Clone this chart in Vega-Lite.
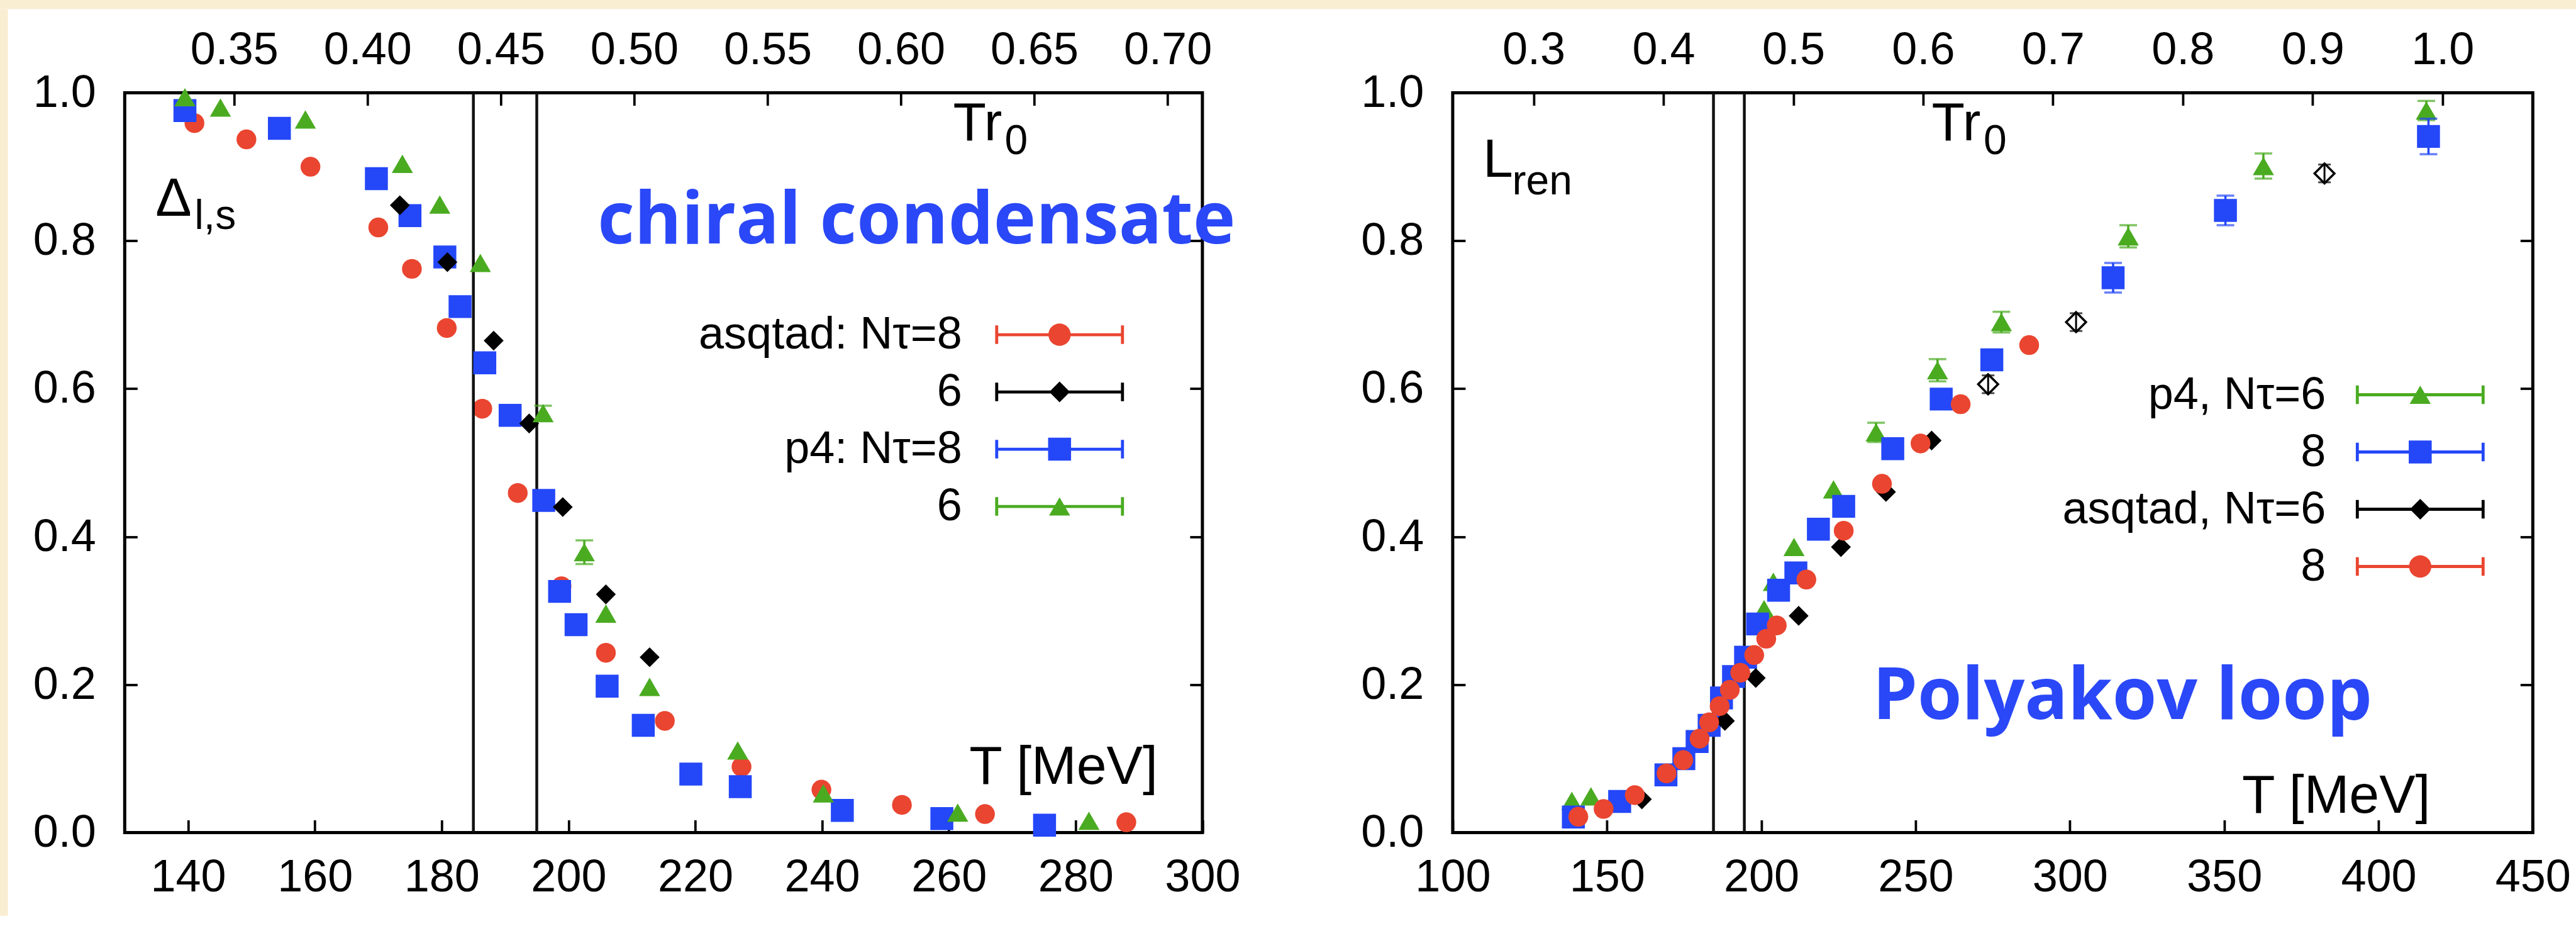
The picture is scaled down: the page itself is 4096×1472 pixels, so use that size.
{
  "$schema": "https://vega.github.io/schema/vega-lite/v6.json",
  "background": "white",
  "padding": 0,
  "bounds": "flush",
  "spacing": 0,
  "config": {
    "view": {"stroke": "black", "strokeWidth": 5},
    "axis": {
      "labelFont": "Liberation Sans", "labelFontSize": 72, "labelColor": "black",
      "tickColor": "black", "tickWidth": 3.8, "tickSize": -20,
      "domain": false, "grid": false, "labelFlush": false, "labelOverlap": false, "labelBound": false
    },
    "legend": {
      "title": null, "orient": "none", "symbolSize": 2500, "symbolStrokeWidth": 0, "symbolOpacity": 1,
      "labelFont": "Liberation Sans", "labelFontSize": 72, "labelColor": "black", "labelAlign": "right", "labelBaseline": "middle",
      "labelLimit": 2000, "rowPadding": 19, "padding": 0
    },
    "text": {"font": "Liberation Sans", "color": "black"}
  },
  "datasets": {
    "chiral": [
      {"series": "a8", "T": 141.0, "v": 0.959}, {"series": "a8", "T": 149.2, "v": 0.937}, {"series": "a8", "T": 159.3, "v": 0.900},
      {"series": "a8", "T": 170.0, "v": 0.818}, {"series": "a8", "T": 175.3, "v": 0.762}, {"series": "a8", "T": 180.8, "v": 0.682},
      {"series": "a8", "T": 186.4, "v": 0.573}, {"series": "a8", "T": 192.0, "v": 0.459}, {"series": "a8", "T": 198.9, "v": 0.333},
      {"series": "a8", "T": 205.9, "v": 0.243}, {"series": "a8", "T": 215.2, "v": 0.151}, {"series": "a8", "T": 227.3, "v": 0.089},
      {"series": "a8", "T": 239.9, "v": 0.058}, {"series": "a8", "T": 252.6, "v": 0.0375}, {"series": "a8", "T": 265.7, "v": 0.025},
      {"series": "a8", "T": 288.0, "v": 0.014},
      {"series": "p8", "T": 139.5, "v": 0.976}, {"series": "p8", "T": 154.4, "v": 0.952}, {"series": "p8", "T": 169.7, "v": 0.884},
      {"series": "p8", "T": 175.0, "v": 0.834}, {"series": "p8", "T": 180.5, "v": 0.778}, {"series": "p8", "T": 182.9, "v": 0.711},
      {"series": "p8", "T": 186.8, "v": 0.635}, {"series": "p8", "T": 190.8, "v": 0.564}, {"series": "p8", "T": 196.1, "v": 0.449},
      {"series": "p8", "T": 198.6, "v": 0.326}, {"series": "p8", "T": 201.2, "v": 0.281}, {"series": "p8", "T": 206.1, "v": 0.198},
      {"series": "p8", "T": 211.8, "v": 0.145}, {"series": "p8", "T": 219.3, "v": 0.079}, {"series": "p8", "T": 227.1, "v": 0.062},
      {"series": "p8", "T": 243.2, "v": 0.030}, {"series": "p8", "T": 258.9, "v": 0.019}, {"series": "p8", "T": 275.1, "v": 0.010},
      {"series": "a6", "T": 173.4, "v": 0.848}, {"series": "a6", "T": 180.9, "v": 0.771}, {"series": "a6", "T": 188.2, "v": 0.665},
      {"series": "a6", "T": 193.8, "v": 0.553}, {"series": "a6", "T": 199.1, "v": 0.440}, {"series": "a6", "T": 205.9, "v": 0.322},
      {"series": "a6", "T": 212.8, "v": 0.237},
      {"series": "p6", "T": 139.5, "v": 0.994}, {"series": "p6", "T": 145.1, "v": 0.980}, {"series": "p6", "T": 158.5, "v": 0.964},
      {"series": "p6", "T": 173.8, "v": 0.904}, {"series": "p6", "T": 179.7, "v": 0.849}, {"series": "p6", "T": 186.1, "v": 0.770},
      {"series": "p6", "T": 196.0, "v": 0.567, "err": 0.010}, {"series": "p6", "T": 202.5, "v": 0.379, "err": 0.016}, {"series": "p6", "T": 205.9, "v": 0.296},
      {"series": "p6", "T": 212.8, "v": 0.197}, {"series": "p6", "T": 226.7, "v": 0.111}, {"series": "p6", "T": 240.2, "v": 0.053},
      {"series": "p6", "T": 261.4, "v": 0.027}, {"series": "p6", "T": 282.1, "v": 0.016}
    ],
    "polyakov": [
      {"series": "p6", "T": 138.6, "v": 0.043}, {"series": "p6", "T": 144.8, "v": 0.049}, {"series": "p6", "T": 200.9, "v": 0.302},
      {"series": "p6", "T": 203.9, "v": 0.339}, {"series": "p6", "T": 210.6, "v": 0.386}, {"series": "p6", "T": 223.4, "v": 0.464},
      {"series": "p6", "T": 237.2, "v": 0.541, "err": 0.013}, {"series": "p6", "T": 257.1, "v": 0.625, "err": 0.015},
      {"series": "p6", "T": 277.8, "v": 0.690, "err": 0.014}, {"series": "p6", "T": 318.9, "v": 0.806, "err": 0.015},
      {"series": "p6", "T": 362.7, "v": 0.901, "err": 0.017}, {"series": "p6", "T": 415.5, "v": 0.976, "err": 0.013},
      {"series": "p8", "T": 139.1, "v": 0.021}, {"series": "p8", "T": 154.1, "v": 0.042}, {"series": "p8", "T": 169.1, "v": 0.078},
      {"series": "p8", "T": 174.9, "v": 0.100}, {"series": "p8", "T": 179.2, "v": 0.123}, {"series": "p8", "T": 183.1, "v": 0.145},
      {"series": "p8", "T": 187.1, "v": 0.182}, {"series": "p8", "T": 191.0, "v": 0.211}, {"series": "p8", "T": 194.9, "v": 0.237},
      {"series": "p8", "T": 198.8, "v": 0.282}, {"series": "p8", "T": 205.6, "v": 0.3275}, {"series": "p8", "T": 211.2, "v": 0.351},
      {"series": "p8", "T": 218.5, "v": 0.410}, {"series": "p8", "T": 226.7, "v": 0.441}, {"series": "p8", "T": 242.6, "v": 0.519},
      {"series": "p8", "T": 258.3, "v": 0.586}, {"series": "p8", "T": 274.7, "v": 0.639}, {"series": "p8", "T": 314.0, "v": 0.750, "err": 0.02},
      {"series": "p8", "T": 350.4, "v": 0.841, "err": 0.02}, {"series": "p8", "T": 416.2, "v": 0.941, "err": 0.024},
      {"series": "a6", "T": 161.3, "v": 0.045}, {"series": "a6", "T": 188.2, "v": 0.151}, {"series": "a6", "T": 198.2, "v": 0.209},
      {"series": "a6", "T": 212.1, "v": 0.293}, {"series": "a6", "T": 225.8, "v": 0.386}, {"series": "a6", "T": 240.4, "v": 0.4605},
      {"series": "a6", "T": 255.2, "v": 0.530}, {"series": "a6", "T": 273.5, "v": 0.606, "err": 0.012},
      {"series": "a6", "T": 302.0, "v": 0.690, "err": 0.012}, {"series": "a6", "T": 382.5, "v": 0.891, "err": 0.012},
      {"series": "a8", "T": 140.7, "v": 0.0214}, {"series": "a8", "T": 148.9, "v": 0.032}, {"series": "a8", "T": 159.0, "v": 0.0506},
      {"series": "a8", "T": 169.3, "v": 0.080}, {"series": "a8", "T": 174.7, "v": 0.098}, {"series": "a8", "T": 180.0, "v": 0.127},
      {"series": "a8", "T": 183.1, "v": 0.149}, {"series": "a8", "T": 186.5, "v": 0.171}, {"series": "a8", "T": 189.8, "v": 0.193},
      {"series": "a8", "T": 193.2, "v": 0.216}, {"series": "a8", "T": 197.7, "v": 0.240}, {"series": "a8", "T": 201.6, "v": 0.262},
      {"series": "a8", "T": 205.0, "v": 0.280}, {"series": "a8", "T": 214.6, "v": 0.342}, {"series": "a8", "T": 226.7, "v": 0.408},
      {"series": "a8", "T": 239.1, "v": 0.4715}, {"series": "a8", "T": 251.6, "v": 0.526}, {"series": "a8", "T": 264.6, "v": 0.579},
      {"series": "a8", "T": 286.8, "v": 0.659}
    ]
  },
  "vconcat": [
    {
      "width": 4096, "height": 14.4,
      "view": {"stroke": null},
      "data": {"values": [{}]},
      "mark": {"type": "rect", "color": "#f9eed2"},
      "encoding": {}
    },
    {
      "bounds": "flush",
      "spacing": 185.3,
      "center": true,
      "resolve": {
        "scale": {"color": "independent", "shape": "independent"},
        "legend": {"color": "independent", "shape": "independent"}
      },
      "hconcat": [
        {
          "width": 12.5, "height": 1441,
          "view": {"stroke": null},
          "data": {"values": [{}]},
          "mark": {"type": "rect", "color": "#f9eed2"},
          "encoding": {}
        },
        {
          "width": 1713.6, "height": 1176,
          "layer": [
            {
              "layer": [
                {
                  "data": {"name": "chiral"},
                  "transform": [{"filter": "datum.series == 'a8'"}],
                  "mark": {"type": "point", "shape": "circle", "filled": true, "color": "#ea4530", "size": 990, "opacity": 1},
                  "encoding": {
                    "x": {"field": "T", "type": "quantitative", "title": null,
                      "scale": {"domain": [130, 300], "nice": false, "zero": false},
                      "axis": {"orient": "bottom", "values": [140, 160, 180, 200, 220, 240, 260, 280, 300], "labelPadding": 56, "title": null}},
                    "y": {"field": "v", "type": "quantitative", "title": null,
                      "scale": {"domain": [0, 1], "nice": false},
                      "axis": {"orient": "left", "values": [0, 0.2, 0.4, 0.6, 0.8, 1.0], "format": ".1f", "labelPadding": 66, "title": null}}
                  }
                },
                {
                  "data": {"values": [{"T": 185}, {"T": 195}]},
                  "mark": {"type": "rule", "color": "#111", "strokeWidth": 4.5},
                  "encoding": {"x": {"field": "T", "type": "quantitative"}}
                },
                {
                  "data": {"name": "chiral"},
                  "transform": [{"filter": "datum.series == 'p6' && isValid(datum.err)"}],
                  "mark": {"type": "errorbar", "color": "#4aab21", "ticks": {"size": 28}, "thickness": 3.5},
                  "encoding": {
                    "x": {"field": "T", "type": "quantitative"},
                    "y": {"field": "v", "type": "quantitative"},
                    "yError": {"field": "err"}
                  }
                },
                {
                  "data": {"name": "chiral"},
                  "transform": [{"filter": "datum.series == 'p8'"}],
                  "mark": {"type": "point", "shape": "square", "filled": true, "color": "#2447f8", "size": 1330, "opacity": 1},
                  "encoding": {"x": {"field": "T", "type": "quantitative"}, "y": {"field": "v", "type": "quantitative"}}
                },
                {
                  "data": {"name": "chiral"},
                  "transform": [{"filter": "datum.series == 'a6'"}],
                  "mark": {"type": "point", "shape": "diamond", "filled": true, "color": "#000000", "size": 1000, "opacity": 1},
                  "encoding": {"x": {"field": "T", "type": "quantitative"}, "y": {"field": "v", "type": "quantitative"}}
                },
                {
                  "data": {"name": "chiral"},
                  "transform": [{"filter": "datum.series == 'p6'"}],
                  "mark": {"type": "point", "shape": "triangle-up", "filled": true, "color": "#4aab21", "size": 1130, "opacity": 1},
                  "encoding": {"x": {"field": "T", "type": "quantitative"}, "y": {"field": "v", "type": "quantitative"}}
                },
                {
                  "data": {"values": [{}]},
                  "mark": {"type": "text", "text": "Δ", "fontSize": 86, "align": "left", "baseline": "alphabetic"},
                  "encoding": {"x": {"datum": 134.86}, "y": {"datum": 0.8335}}
                },
                {
                  "data": {"values": [{}]},
                  "mark": {"type": "text", "text": "l,s", "fontSize": 66, "align": "left", "baseline": "alphabetic"},
                  "encoding": {"x": {"datum": 141.0}, "y": {"datum": 0.8155}}
                },
                {
                  "data": {"values": [{}]},
                  "mark": {"type": "text", "text": "Tr", "fontSize": 86, "align": "left", "baseline": "alphabetic"},
                  "encoding": {"x": {"datum": 260.67}, "y": {"datum": 0.9355}}
                },
                {
                  "data": {"values": [{}]},
                  "mark": {"type": "text", "text": "0", "fontSize": 66, "align": "left", "baseline": "alphabetic"},
                  "encoding": {"x": {"datum": 268.8}, "y": {"datum": 0.9167}}
                },
                {
                  "data": {"values": [{}]},
                  "mark": {"type": "text", "text": "T [MeV]", "fontSize": 86, "align": "right", "baseline": "alphabetic"},
                  "encoding": {"x": {"datum": 292.95}, "y": {"datum": 0.0661}}
                },
                {
                  "data": {"values": [{}]},
                  "mark": {"type": "text", "text": "chiral condensate", "font": "Open Sans", "fontWeight": "bold", "fontSize": 114, "color": "#2a48f7", "align": "center", "baseline": "alphabetic"},
                  "encoding": {"x": {"datum": 254.9}, "y": {"datum": 0.796}}
                }
              ]
            },
            {
              "data": {"values": [{"tr0": 0.35}, {"tr0": 0.40}, {"tr0": 0.45}, {"tr0": 0.50}, {"tr0": 0.55}, {"tr0": 0.60}, {"tr0": 0.65}, {"tr0": 0.70}]},
              "mark": {"type": "point", "opacity": 0},
              "encoding": {
                "x": {"field": "tr0", "type": "quantitative", "title": null,
                  "scale": {"domain": [0.30898, 0.71304], "nice": false, "zero": false},
                  "axis": {"orient": "top", "values": [0.35, 0.40, 0.45, 0.50, 0.55, 0.60, 0.65, 0.70], "format": ".2f", "labelPadding": 51, "title": null}},
                "y": {"datum": 0, "type": "quantitative",
                  "axis": {"orient": "right", "values": [0.2, 0.4, 0.6, 0.8], "labels": false, "title": null}}
              }
            },
            {
              "data": {"values": [{"entry": "a8"}, {"entry": "a6"}, {"entry": "p8"}, {"entry": "p6"}]},
              "mark": {"type": "point", "filled": true, "opacity": 0},
              "encoding": {
                "color": {"field": "entry", "type": "nominal",
                  "scale": {"domain": ["a8", "a6", "p8", "p6"], "range": ["#ea4530", "#000000", "#2447f8", "#4aab21"]},
                  "legend": {"legendX": 1450.5, "legendY": 348.6, "labelOffset": -191,
                    "labelExpr": "datum.value == 'a8' ? 'asqtad: Nτ=8' : datum.value == 'p8' ? 'p4: Nτ=8' : '6'"}},
                "shape": {"field": "entry", "type": "nominal",
                  "scale": {"domain": ["a8", "a6", "p8", "p6"], "range": [
                    "M-4,-0.096H4V0.096H-4ZM-4.096,-0.59H-3.904V0.59H-4.096ZM3.904,-0.59H4.096V0.59H3.904ZM-0.71,0A0.71,0.71,0,1,1,0.71,0A0.71,0.71,0,1,1,-0.71,0Z",
                    "M-4,-0.096H4V0.096H-4ZM-4.096,-0.59H-3.904V0.59H-4.096ZM3.904,-0.59H4.096V0.59H3.904ZM-0.66,0L0,-0.66L0.66,0L0,0.66Z",
                    "M-4,-0.096H4V0.096H-4ZM-4.096,-0.59H-3.904V0.59H-4.096ZM3.904,-0.59H4.096V0.59H3.904ZM-0.73,-0.73H0.73V0.73H-0.73Z",
                    "M-4,-0.096H4V0.096H-4ZM-4.096,-0.59H-3.904V0.59H-4.096ZM3.904,-0.59H4.096V0.59H3.904ZM0,-0.58L0.67,0.58H-0.67Z"]},
                  "legend": {"legendX": 1450.5, "legendY": 348.6, "labelOffset": -191,
                    "labelExpr": "datum.value == 'a8' ? 'asqtad: Nτ=8' : datum.value == 'p8' ? 'p4: Nτ=8' : '6'"}}
              }
            }
          ],
          "resolve": {"scale": {"x": "independent"}, "axis": {"y": "independent", "x": "independent"}}
        },
        {
          "width": 26.8, "height": 1176,
          "view": {"stroke": null},
          "data": {"values": [{}]},
          "mark": {"type": "rect", "color": "white"},
          "encoding": {}
        },
        {
          "width": 1717.4, "height": 1176,
          "layer": [
            {
              "layer": [
                {
                  "data": {"name": "polyakov"},
                  "transform": [{"filter": "datum.series == 'p6'"}],
                  "mark": {"type": "point", "shape": "triangle-up", "filled": true, "color": "#4aab21", "size": 1130, "opacity": 1},
                  "encoding": {
                    "x": {"field": "T", "type": "quantitative", "title": null,
                      "scale": {"domain": [100, 450], "nice": false, "zero": false},
                      "axis": {"orient": "bottom", "values": [100, 150, 200, 250, 300, 350, 400, 450], "labelPadding": 56, "title": null}},
                    "y": {"field": "v", "type": "quantitative", "title": null,
                      "scale": {"domain": [0, 1], "nice": false},
                      "axis": {"orient": "left", "values": [0, 0.2, 0.4, 0.6, 0.8, 1.0], "format": ".1f", "labelPadding": 66, "title": null}}
                  }
                },
                {
                  "data": {"values": [{"T": 184.5}, {"T": 194.5}]},
                  "mark": {"type": "rule", "color": "#111", "strokeWidth": 4.5},
                  "encoding": {"x": {"field": "T", "type": "quantitative"}}
                },
                {
                  "data": {"name": "polyakov"},
                  "transform": [{"filter": "datum.series == 'p6' && isValid(datum.err)"}],
                  "mark": {"type": "errorbar", "color": "#4aab21", "ticks": {"size": 28}, "thickness": 3.5},
                  "encoding": {"x": {"field": "T", "type": "quantitative"}, "y": {"field": "v", "type": "quantitative"}, "yError": {"field": "err"}}
                },
                {
                  "data": {"name": "polyakov"},
                  "transform": [{"filter": "datum.series == 'p8' && isValid(datum.err)"}],
                  "mark": {"type": "errorbar", "color": "#2447f8", "ticks": {"size": 28}, "thickness": 3.5},
                  "encoding": {"x": {"field": "T", "type": "quantitative"}, "y": {"field": "v", "type": "quantitative"}, "yError": {"field": "err"}}
                },
                {
                  "data": {"name": "polyakov"},
                  "transform": [{"filter": "datum.series == 'a6' && isValid(datum.err)"}],
                  "mark": {"type": "errorbar", "color": "#000000", "ticks": {"size": 20}, "thickness": 3},
                  "encoding": {"x": {"field": "T", "type": "quantitative"}, "y": {"field": "v", "type": "quantitative"}, "yError": {"field": "err"}}
                },
                {
                  "data": {"name": "polyakov"},
                  "transform": [{"filter": "datum.series == 'p8'"}],
                  "mark": {"type": "point", "shape": "square", "filled": true, "color": "#2447f8", "size": 1330, "opacity": 1},
                  "encoding": {"x": {"field": "T", "type": "quantitative"}, "y": {"field": "v", "type": "quantitative"}}
                },
                {
                  "data": {"name": "polyakov"},
                  "transform": [{"filter": "datum.series == 'a6' && datum.T < 270"}],
                  "mark": {"type": "point", "shape": "diamond", "filled": true, "color": "#000000", "size": 1000, "opacity": 1},
                  "encoding": {"x": {"field": "T", "type": "quantitative"}, "y": {"field": "v", "type": "quantitative"}}
                },
                {
                  "data": {"name": "polyakov"},
                  "transform": [{"filter": "datum.series == 'a6' && datum.T > 270"}],
                  "mark": {"type": "point", "shape": "diamond", "filled": false, "color": "#000000", "strokeWidth": 3.5, "size": 1000, "opacity": 1},
                  "encoding": {"x": {"field": "T", "type": "quantitative"}, "y": {"field": "v", "type": "quantitative"}}
                },
                {
                  "data": {"name": "polyakov"},
                  "transform": [{"filter": "datum.series == 'a8'"}],
                  "mark": {"type": "point", "shape": "circle", "filled": true, "color": "#ea4530", "size": 990, "opacity": 1},
                  "encoding": {"x": {"field": "T", "type": "quantitative"}, "y": {"field": "v", "type": "quantitative"}}
                },
                {
                  "data": {"values": [{}]},
                  "mark": {"type": "text", "text": "L", "fontSize": 86, "align": "left", "baseline": "alphabetic"},
                  "encoding": {"x": {"datum": 109.8}, "y": {"datum": 0.8865}}
                },
                {
                  "data": {"values": [{}]},
                  "mark": {"type": "text", "text": "ren", "fontSize": 66, "align": "left", "baseline": "alphabetic"},
                  "encoding": {"x": {"datum": 119.3}, "y": {"datum": 0.8629}}
                },
                {
                  "data": {"values": [{}]},
                  "mark": {"type": "text", "text": "Tr", "fontSize": 86, "align": "left", "baseline": "alphabetic"},
                  "encoding": {"x": {"datum": 255.2}, "y": {"datum": 0.9355}}
                },
                {
                  "data": {"values": [{}]},
                  "mark": {"type": "text", "text": "0", "fontSize": 66, "align": "left", "baseline": "alphabetic"},
                  "encoding": {"x": {"datum": 272.0}, "y": {"datum": 0.9167}}
                },
                {
                  "data": {"values": [{}]},
                  "mark": {"type": "text", "text": "T [MeV]", "fontSize": 86, "align": "right", "baseline": "alphabetic"},
                  "encoding": {"x": {"datum": 416.8}, "y": {"datum": 0.0269}}
                },
                {
                  "data": {"values": [{}]},
                  "mark": {"type": "text", "text": "Polyakov loop", "font": "Open Sans", "fontWeight": "bold", "fontSize": 114, "color": "#2a48f7", "align": "center", "baseline": "alphabetic"},
                  "encoding": {"x": {"datum": 317}, "y": {"datum": 0.1535}}
                }
              ]
            },
            {
              "data": {"values": [{"tr0": 0.3}, {"tr0": 0.4}, {"tr0": 0.5}, {"tr0": 0.6}, {"tr0": 0.7}, {"tr0": 0.8}, {"tr0": 0.9}, {"tr0": 1.0}]},
              "mark": {"type": "point", "opacity": 0},
              "encoding": {
                "x": {"field": "tr0", "type": "quantitative", "title": null,
                  "scale": {"domain": [0.23768, 1.06956], "nice": false, "zero": false},
                  "axis": {"orient": "top", "values": [0.3, 0.4, 0.5, 0.6, 0.7, 0.8, 0.9, 1.0], "format": ".1f", "labelPadding": 51, "title": null}},
                "y": {"datum": 0, "type": "quantitative",
                  "axis": {"orient": "right", "values": [0.2, 0.4, 0.6, 0.8], "labels": false, "title": null}}
              }
            },
            {
              "data": {"values": [{"entry": "p6"}, {"entry": "p8"}, {"entry": "a6"}, {"entry": "a8"}]},
              "mark": {"type": "point", "filled": true, "opacity": 0},
              "encoding": {
                "color": {"field": "entry", "type": "nominal",
                  "scale": {"domain": ["p6", "p8", "a6", "a8"], "range": ["#4aab21", "#2447f8", "#000000", "#ea4530"]},
                  "legend": {"legendX": 1502.4, "legendY": 444, "labelOffset": -186,
                    "labelExpr": "datum.value == 'p6' ? 'p4, Nτ=6' : datum.value == 'a6' ? 'asqtad, Nτ=6' : '8'"}},
                "shape": {"field": "entry", "type": "nominal",
                  "scale": {"domain": ["p6", "p8", "a6", "a8"], "range": [
                    "M-4,-0.096H4V0.096H-4ZM-4.096,-0.59H-3.904V0.59H-4.096ZM3.904,-0.59H4.096V0.59H3.904ZM0,-0.58L0.67,0.58H-0.67Z",
                    "M-4,-0.096H4V0.096H-4ZM-4.096,-0.59H-3.904V0.59H-4.096ZM3.904,-0.59H4.096V0.59H3.904ZM-0.73,-0.73H0.73V0.73H-0.73Z",
                    "M-4,-0.096H4V0.096H-4ZM-4.096,-0.59H-3.904V0.59H-4.096ZM3.904,-0.59H4.096V0.59H3.904ZM-0.66,0L0,-0.66L0.66,0L0,0.66Z",
                    "M-4,-0.096H4V0.096H-4ZM-4.096,-0.59H-3.904V0.59H-4.096ZM3.904,-0.59H4.096V0.59H3.904ZM-0.71,0A0.71,0.71,0,1,1,0.71,0A0.71,0.71,0,1,1,-0.71,0Z"]},
                  "legend": {"legendX": 1502.4, "legendY": 444, "labelOffset": -186,
                    "labelExpr": "datum.value == 'p6' ? 'p4, Nτ=6' : datum.value == 'a6' ? 'asqtad, Nτ=6' : '8'"}}
              }
            }
          ],
          "resolve": {"scale": {"x": "independent"}, "axis": {"y": "independent", "x": "independent"}}
        }
      ]
    }
  ]
}
